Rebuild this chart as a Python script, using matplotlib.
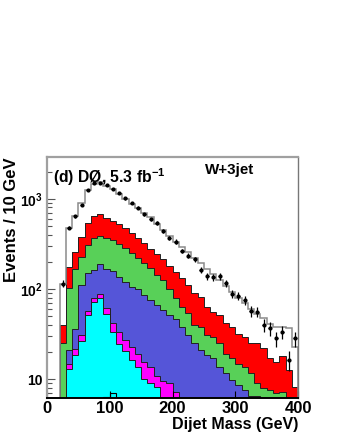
import matplotlib
matplotlib.use('Agg')
import matplotlib.pyplot as plt
import numpy as np

# W+3jet dijet mass, stacked backgrounds (cumulative levels)

edges = np.arange(0, 410, 10)

data = [0, 0, 115, 480, 640, 850, 1240, 1490, 1500, 1405, 1280, 1150, 1010, 900, 795,
        670, 590, 537, 440, 365, 336, 264, 234, 214, 163, 139, 135, 139, 116, 88,
        84, 75, 57, 56, 40, 36.6, 28.3, 33.6, 16.3, 28.3]

total = [0, 0, 115, 480, 640, 890, 1260, 1460, 1520, 1400, 1280, 1140, 1000, 870, 790,
         690, 630, 530, 450, 390, 335, 290, 255, 220, 192, 165, 145, 125, 108, 92,
         80, 70, 60, 53, 48, 41, 38, 38, 37, 23]

cum_red = [0, 0, 40, 177, 260, 381, 536, 636, 675, 619, 574, 522, 472, 415, 365,
           327, 276, 243, 214, 182, 156, 131, 111, 90, 82, 64, 55, 52, 42, 38,
           32, 29.5, 25, 25, 22, 17, 15.6, 18, 12.6, 8.3]

cum_green = [0, 0, 25, 102, 167, 225, 308, 365, 388, 365, 350, 316, 283, 249, 219,
             193, 173, 143, 126, 100, 79, 64, 54, 40, 38, 31, 29.5, 25, 19.3, 17,
             14.9, 13.7, 11.6, 9, 8, 7.6, 7, 7.2, 0, 0]

cum_blue = [0, 0, 0, 21, 36, 111, 149, 163, 188, 165, 160, 135, 120, 106, 99,
            86, 75, 66, 58, 51, 47, 38, 31, 25, 21, 18.5, 17, 13.7, 11.6, 9.8,
            8.6, 7.6, 6.6, 6.5, 0, 0, 0, 0, 0, 0]

cum_magenta = [0, 0, 0, 14.9, 21.9, 30.8, 57, 80, 87, 62, 42, 33, 27, 22.9, 19,
               15.6, 13.7, 10.8, 9.5, 9, 7.2, 0, 0, 0, 0, 0, 0, 0, 0, 0,
               0, 0, 0, 0, 0, 0, 0, 0, 0, 0]

cum_cyan = [0, 0, 0, 12.9, 18.8, 26.7, 51, 72, 79, 53, 33, 24.3, 20.5, 16.5, 13.7,
            10.2, 9, 8.2, 0, 0, 0, 0, 0, 0, 0, 0, 0, 0, 0, 0,
            0, 0, 0, 0, 0, 0, 0, 0, 0, 0]

signal = [0, 0, 0, 0, 0, 0, 0, 0, 0, 6.4, 7.0, 0, 0, 0, 0, 0, 0, 0, 0, 0,
          0, 0, 0, 0, 0, 0, 0, 0, 0, 0, 0, 0, 0, 0, 0, 0, 0, 0, 0, 0]

plt.rcParams['font.family'] = ['Liberation Sans', 'DejaVu Sans']
plt.rcParams['font.weight'] = 'bold'
plt.rcParams['mathtext.fontset'] = 'custom'
plt.rcParams['mathtext.rm'] = 'Liberation Sans:bold'
plt.rcParams['mathtext.bf'] = 'Liberation Sans:bold'
plt.rcParams['mathtext.default'] = 'bf'

fig = plt.figure(figsize=(3.38, 4.37), dpi=100)
ax = fig.add_axes([0.139, 0.0892, 0.743, 0.5515])

floor = 1e-2


def clip(v):
    v = np.asarray(v, dtype=float)
    return np.where(v > 0, v, floor)


# painter's order: biggest level first
layers = [(cum_red, '#ff0000'), (cum_green, '#58d058'), (cum_blue, '#5555d8'),
          (cum_magenta, '#ff00ff'), (cum_cyan, '#00ffff')]
for vals, col in layers:
    ax.stairs(clip(vals), edges, baseline=floor, fill=True, color=col, lw=0)
for vals, col in layers:
    ax.stairs(clip(vals), edges, baseline=None, color='#222222', lw=0.7)

ax.stairs(clip(signal), edges, baseline=floor, color='black', lw=0.8)
ax.stairs(clip(total), edges, baseline=floor, color='#8a8a8a', lw=1.1)

centers = edges[:-1] + 5
d = np.asarray(data, dtype=float)
m = d > 0
ax.errorbar(centers[m], d[m], yerr=np.sqrt(d[m]), xerr=2.5, fmt='o', ms=2,
            color='black', elinewidth=0.9, capsize=0)

ax.set_yscale('log')
ax.set_xlim(0, 400)
ax.set_ylim(6.2, 2900)

ax.set_yticks([10, 100, 1000])
ax.set_yticklabels(['10', '$10^2$', '$10^3$'])
ax.set_xticks([0, 100, 200, 300, 400])
ax.tick_params(axis='both', which='both', direction='in', pad=3)
ax.tick_params(axis='y', which='major', length=6, width=0.8, color='#555555', labelsize=10)
ax.tick_params(axis='y', which='minor', length=3.5, width=0.8, color='#555555')
ax.tick_params(axis='y', which='minor', labelleft=False)
ax.tick_params(axis='x', which='major', length=5, width=0.8, labelsize=12, pad=2)
ax.tick_params(top=False, right=False)

for side in ['left', 'top']:
    ax.spines[side].set_color('#a0a0a0')
    ax.spines[side].set_linewidth(1.6)
ax.spines['right'].set_color('#777777')
ax.spines['right'].set_linewidth(1.0)
ax.spines['bottom'].set_color('black')
ax.spines['bottom'].set_linewidth(1.4)

ax.set_xlabel('Dijet Mass (GeV)', fontsize=11.5, fontweight='bold', loc='right', labelpad=1)
ax.set_ylabel('Events / 10 GeV', fontsize=12, fontweight='bold', loc='top')
ax.yaxis.set_label_coords(-0.112, 1.0)

ax.text(0.025, 0.96, '(d) D\u00d8, 5.3 fb$^{-1}$', transform=ax.transAxes,
        fontsize=11.3, fontweight='bold', va='top', ha='left')
ax.text(0.63, 0.975, 'W+3jet', transform=ax.transAxes,
        fontsize=10.9, fontweight='bold', va='top', ha='left')

plt.savefig('out.png', dpi=100)
plt.close()
